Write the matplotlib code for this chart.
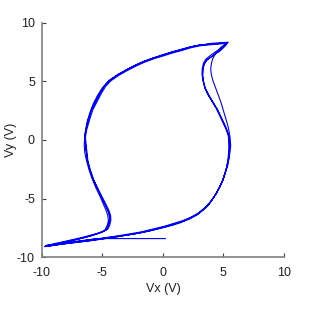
import numpy as np
import matplotlib
matplotlib.use("Agg")
import matplotlib.pyplot as plt

plt.rcParams['font.family'] = ['Liberation Sans', 'DejaVu Sans']
plt.rcParams['axes.unicode_minus'] = False

# start of the trace (transient)
start_x = [0.2, -2.0, -4.0, -5.5, -7.0, -8.5, -9.75]
start_y = [-8.42, -8.42, -8.42, -8.42, -8.65, -8.9, -9.1]

# loop 1 (inner right branch)
loop1_x = [-9.75, -8.0, -6.0, -4.0, -2.0, -1.0, 0.0, 0.8, 1.5, 2.2, 2.8, 3.3, 3.8, 4.2, 4.6, 4.95, 5.2,
           5.4, 5.5, 5.5, 5.45, 5.3, 5.1, 4.8, 4.5, 4.15, 3.8, 3.5, 3.35, 3.28, 3.3, 3.4, 3.6, 4.0,
           4.4, 4.75, 5.0, 5.2, 5.3, 4.7, 4.0, 3.0, 2.2, 1.5, 0.7, 0.0, -0.8, -1.6, -2.3, -3.0,
           -3.7, -4.4, -4.85, -5.2, -5.55, -5.9, -6.15, -6.35, -6.45, -6.4, -6.25, -6.05, -5.75,
           -5.4, -5.1, -4.8, -4.55, -4.42, -4.4, -4.5, -4.65, -5.1, -5.7, -6.5, -7.4, -8.5, -9.75]
loop1_y = [-9.1, -8.85, -8.6, -8.3, -7.95, -7.72, -7.45, -7.22, -7.0, -6.72, -6.4, -6.0, -5.5, -4.9, -4.2, -3.45, -2.6,
           -1.8, -1.0, -0.3, 0.3, 0.8, 1.3, 1.95, 2.6, 3.2, 3.8, 4.4, 5.0, 5.5, 6.0, 6.45, 6.8, 7.1,
           7.4, 7.65, 7.9, 8.1, 8.3, 8.25, 8.2, 8.1, 7.92, 7.7, 7.48, 7.25, 7.0, 6.7, 6.37, 6.0,
           5.6, 5.1, 4.6, 4.0, 3.3, 2.6, 1.8, 0.9, 0.3, -0.3, -1.7, -2.5, -3.4,
           -4.15, -4.85, -5.45, -6.0, -6.4, -6.8, -7.25, -7.65, -7.9, -8.1, -8.33, -8.55, -8.8, -9.1]

# loop 2 (outer right branch)
loop2_x = [-9.6, -7.5, -5.0, -2.5, -1.2, 0.0, 0.8, 1.5, 2.2, 2.9, 3.4, 3.9, 4.4, 4.8, 5.1, 5.35,
           5.5, 5.6, 5.55, 5.45, 5.35, 5.2, 5.0, 4.8, 4.55, 4.3, 4.12, 4.0, 3.95, 4.0, 4.1, 4.3,
           4.5, 4.8, 5.1, 5.4, 4.7, 4.0, 3.2, 2.5, 1.8, 1.0, 0.2, -0.5, -1.3, -2.0, -2.7, -3.3,
           -3.9, -4.5, -5.0, -5.4, -5.75, -6.0, -6.25, -6.4, -6.5, -6.45, -6.3, -6.1, -5.85,
           -5.55, -5.2, -4.95, -4.7, -4.55, -4.5, -4.6, -4.8, -5.3, -6.0, -6.8, -7.8, -8.7, -9.6]
loop2_y = [-9.05, -8.7, -8.4, -8.05, -7.8, -7.5, -7.28, -7.05, -6.72, -6.3, -5.85, -5.3, -4.6, -3.8, -3.0, -2.2,
           -1.35, -0.5, 0.2, 0.8, 1.3, 1.8, 2.5, 3.2, 3.9, 4.6, 5.1, 5.6, 6.05, 6.5, 6.9, 7.3,
           7.6, 7.9, 8.15, 8.35, 8.3, 8.25, 8.12, 8.0, 7.82, 7.6, 7.35, 7.1, 6.8, 6.5, 6.15, 5.8,
           5.42, 5.0, 4.45, 3.8, 3.1, 2.4, 1.6, 0.8, -0.4, -1.1, -1.8, -2.55, -3.3,
           -4.05, -4.8, -5.4, -6.0, -6.45, -6.9, -7.3, -7.7, -7.95, -8.2, -8.42, -8.65, -8.85, -9.05]

# loop 3 (inner branch, slightly shifted)
loop3_x = [-9.6, -7.8, -5.8, -3.8, -1.8, -0.8, 0.2, 0.9, 1.6, 2.3, 2.9, 3.4, 3.9, 4.3, 4.7, 5.0, 5.25,
           5.38, 5.45, 5.45, 5.4, 5.22, 5.0, 4.7, 4.4, 4.05, 3.7, 3.45, 3.3, 3.23, 3.25, 3.35, 3.55, 3.9,
           4.3, 4.65, 4.9, 5.1, 5.2, 4.7, 4.1, 3.1, 2.3, 1.6, 0.8, 0.1, -0.7, -1.5, -2.2, -2.9,
           -3.6, -4.3, -4.75, -5.1, -5.45, -5.8, -6.05, -6.3, -6.4, -6.35, -6.2, -6.0, -5.7,
           -5.35, -5.0, -4.7, -4.45, -4.32, -4.3, -4.4, -4.55, -4.95, -5.5, -6.3, -7.2, -8.3, -9.6]
loop3_y = [-9.0, -8.8, -8.5, -8.2, -7.85, -7.6, -7.35, -7.12, -6.9, -6.6, -6.25, -5.85, -5.35, -4.75, -4.0, -3.25, -2.4,
           -1.6, -0.8, -0.2, 0.4, 0.9, 1.4, 2.05, 2.7, 3.3, 3.9, 4.5, 5.1, 5.6, 6.1, 6.55, 6.9, 7.2,
           7.5, 7.72, 7.95, 8.12, 8.25, 8.2, 8.15, 8.05, 7.87, 7.65, 7.43, 7.2, 6.95, 6.65, 6.32, 5.95,
           5.55, 5.05, 4.55, 3.95, 3.25, 2.55, 1.75, 0.85, 0.25, -0.35, -1.75, -2.55, -3.45,
           -4.2, -4.9, -5.5, -6.05, -6.45, -6.85, -7.3, -7.6, -7.82, -8.0, -8.22, -8.45, -8.7, -9.0]

vx = start_x + loop1_x + loop2_x + loop3_x + loop1_x
vy = start_y + loop1_y + loop2_y + loop3_y + loop1_y

fig = plt.figure(figsize=(3.10, 3.09), dpi=100)
ax = fig.add_axes([0.135, 0.168, 0.781, 0.758])

ax.plot(vx, vy, color='#0000ff', lw=0.8)

ax.set_xlim(-10, 10)
ax.set_ylim(-10, 10)
ax.set_xticks([-10, -5, 0, 5, 10])
ax.set_yticks([-10, -5, 0, 5, 10])
ax.set_xlabel('Vx (V)', fontsize=9, labelpad=3, color='#202020')
ax.set_ylabel('Vy (V)', fontsize=9, labelpad=0, color='#202020')

for s in ['top', 'right']:
    ax.spines[s].set_visible(False)
for s in ['left', 'bottom']:
    ax.spines[s].set_color('#808080')
    ax.spines[s].set_linewidth(1.2)
ax.tick_params(direction='in', length=3, color='#404040', labelsize=9, labelcolor='#202020')
ax.tick_params(axis='x', pad=7)
ax.tick_params(axis='y', pad=5)

fig.savefig('out.png', dpi=100)
